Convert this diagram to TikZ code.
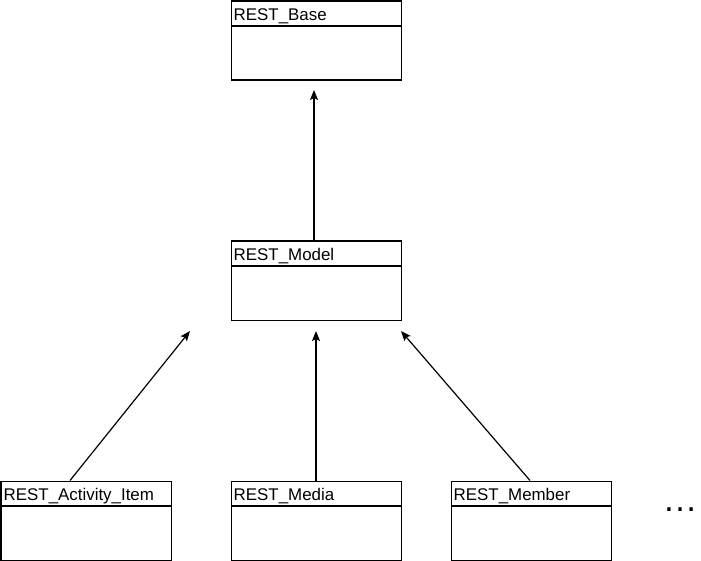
\documentclass[tikz,border=0pt]{standalone}
\usepackage{fontspec}
\setmainfont{Liberation Sans}
\usetikzlibrary{arrows.meta}
\tikzset{
  cls/.style={draw, line width=1.2pt, minimum width=170pt, minimum height=79pt, inner sep=0pt, anchor=north west},
  lbl/.style={anchor=base west, font=\fontsize{16.9}{19}\selectfont, inner sep=0pt},
  arr/.style={line width=1.2pt, -{Stealth[length=10pt,width=8pt,inset=2pt]}}
}
\newcommand{\clsbox}[5]{% name, x, y, width, label
  \node[cls, minimum width=#4pt] (#1) at (#2,#3) {};
  \draw[line width=1.2pt] ([yshift=-25.5pt]#1.north west) -- ([yshift=-25.5pt]#1.north east);
  \node[lbl] (#1-t) at ([xshift=3pt,yshift=-19.8pt]#1.north west) {#5};
}
\begin{document}
\begin{tikzpicture}[x=1pt,y=-1pt]
\useasboundingbox (0,0) rectangle (701,561);
\clsbox{base}{230.5}{0.5}{170}{REST\_Base}
\clsbox{model}{230.5}{240.5}{170}{REST\_Model}
\clsbox{act}{0.5}{480.5}{170}{REST\_Activity\_Item}
\clsbox{media}{230.5}{480.5}{170}{REST\_Media}
\clsbox{member}{450.5}{480.5}{160}{REST\_Member}
\coordinate (tb) at (314,90);
\coordinate (t1) at (190,331);
\coordinate (t2) at (316,331);
\coordinate (t3) at (401,331);
\draw[arr] (model.north -| tb) -- (tb);
\draw[arr] (act.north -| 70,0) -- (t1);
\draw[arr] (media.north -| t2) -- (t2);
\draw[arr] (member.north -| 530,0) -- (t3);
\node[font=\fontsize{35}{40}\selectfont, inner sep=0pt, anchor=base] (dots) at (680,511.5) {…};
\end{tikzpicture}
\end{document}
